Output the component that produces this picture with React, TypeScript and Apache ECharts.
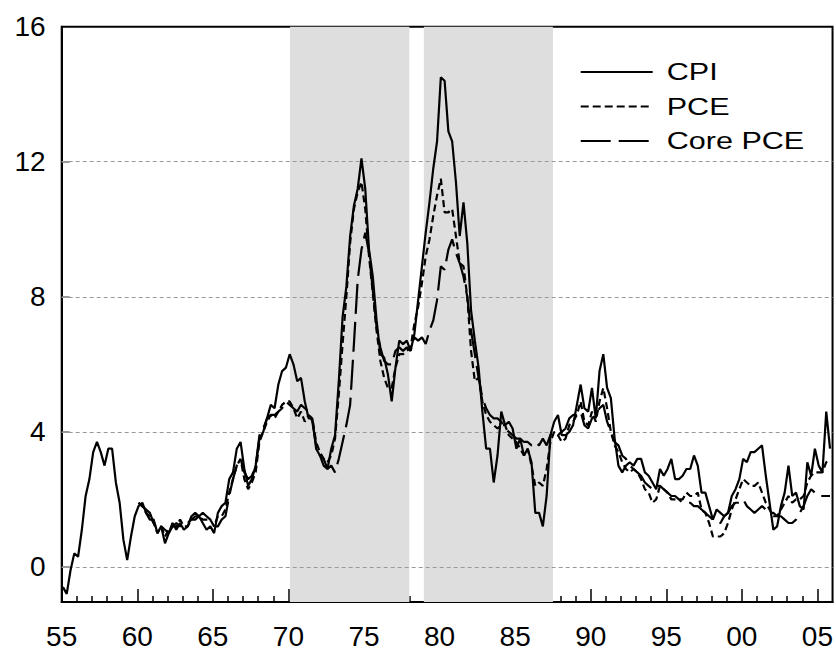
import React, { useEffect, useRef } from "react";
import * as echarts from "echarts";

// Quarterly readings (Feb, May, Aug, Nov) of 12-month inflation, percent
const cpiStart = 1955;
const cpi = [
  -0.6, -0.8, -0.1, 0.4, // 1955
  0.3, 1.1, 2.1, 2.6, // 1956
  3.4, 3.7, 3.4, 3.0, // 1957
  3.5, 3.5, 2.5, 1.9, // 1958
  0.8, 0.2, 0.9, 1.5, // 1959
  1.8, 1.9, 1.6, 1.4, // 1960
  1.4, 1.0, 1.2, 0.7, // 1961
  1.0, 1.3, 1.1, 1.3, // 1962
  1.1, 1.2, 1.5, 1.6, // 1963
  1.5, 1.3, 1.1, 1.2, // 1964
  1.0, 1.6, 1.8, 1.9, // 1965
  2.6, 2.8, 3.5, 3.7, // 1966
  2.9, 2.4, 2.6, 3.0, // 1967
  3.8, 4.0, 4.4, 4.8, // 1968
  4.7, 5.4, 5.8, 5.9, // 1969
  6.3, 6.0, 5.5, 5.6, // 1970
  4.9, 4.4, 4.4, 3.5, // 1971
  3.3, 3.2, 2.9, 3.5, // 1972
  3.9, 5.5, 7.4, 8.3, // 1973
  9.8, 10.7, 11.2, 12.1, // 1974
  11.2, 9.4, 8.6, 7.3, // 1975
  6.3, 6.2, 5.7, 4.9, // 1976
  5.9, 6.7, 6.6, 6.7, // 1977
  6.4, 6.9, 7.9, 8.9, // 1978
  9.9, 10.8, 11.8, 12.6, // 1979
  14.5, 14.4, 12.9, 12.6, // 1980
  11.4, 9.8, 10.8, 9.6, // 1981
  7.6, 6.7, 5.9, 4.6, // 1982
  3.5, 3.5, 2.5, 3.3, // 1983
  4.6, 4.2, 4.3, 4.1, // 1984
  3.5, 3.8, 3.3, 3.5, // 1985
  3.1, 1.6, 1.6, 1.2, // 1986
  2.1, 3.9, 4.3, 4.5, // 1987
  3.9, 3.9, 4.0, 4.2, // 1988
  4.8, 5.4, 4.7, 4.6, // 1989
  5.3, 4.4, 5.8, 6.3, // 1990
  5.3, 5.0, 3.8, 3.0, // 1991
  2.8, 3.0, 3.1, 3.0, // 1992
  3.2, 3.2, 2.8, 2.7, // 1993
  2.5, 2.3, 2.9, 2.7, // 1994
  2.9, 3.2, 2.6, 2.6, // 1995
  2.7, 2.9, 2.9, 3.3, // 1996
  3.0, 2.2, 2.2, 1.8, // 1997
  1.4, 1.7, 1.6, 1.5, // 1998
  1.6, 2.1, 2.3, 2.6, // 1999
  3.2, 3.1, 3.4, 3.4, // 2000
  3.5, 3.6, 2.7, 1.9, // 2001
  1.1, 1.2, 1.8, 2.2, // 2002
  3.0, 2.1, 2.2, 1.8, // 2003
  1.7, 3.1, 2.7, 3.5, // 2004
  3.0, 2.8, 4.6, 3.5, // 2005
];

const pceStart = 1960;
const pce = [
  1.9, 1.8, 1.6, 1.5, // 1960
  1.3, 1.0, 1.2, 0.9, // 1961
  1.1, 1.2, 1.2, 1.4, // 1962
  1.2, 1.2, 1.4, 1.5, // 1963
  1.5, 1.4, 1.4, 1.4, // 1964
  1.2, 1.5, 1.5, 1.7, // 1965
  2.2, 2.6, 3.0, 3.2, // 1966
  2.6, 2.3, 2.5, 2.8, // 1967
  3.7, 4.0, 4.3, 4.5, // 1968
  4.4, 4.6, 4.8, 4.9, // 1969
  4.9, 4.7, 4.4, 4.6, // 1970
  4.3, 4.5, 4.4, 3.7, // 1971
  3.4, 3.2, 3.1, 3.3, // 1972
  3.8, 5.1, 6.6, 8.0, // 1973
  9.6, 10.6, 11.1, 11.4, // 1974
  10.6, 9.2, 8.1, 7.0, // 1975
  6.1, 5.6, 5.3, 5.3, // 1976
  5.9, 6.3, 6.3, 6.4, // 1977
  6.5, 7.2, 7.7, 8.4, // 1978
  9.2, 9.7, 10.4, 11.0, // 1979
  11.5, 10.5, 10.5, 10.6, // 1980
  9.8, 9.0, 8.9, 8.0, // 1981
  6.4, 5.5, 5.6, 4.9, // 1982
  4.5, 4.3, 4.2, 4.1, // 1983
  4.2, 4.2, 3.9, 3.8, // 1984
  3.7, 3.5, 3.3, 3.5, // 1985
  3.0, 2.4, 2.5, 2.4, // 1986
  2.9, 3.7, 4.0, 3.9, // 1987
  3.7, 3.8, 4.2, 4.3, // 1988
  4.5, 4.9, 4.3, 4.2, // 1989
  4.6, 4.3, 4.9, 5.3, // 1990
  4.7, 4.0, 3.6, 3.4, // 1991
  3.1, 2.9, 2.8, 2.9, // 1992
  2.8, 2.6, 2.3, 2.2, // 1993
  1.9, 2.0, 2.4, 2.3, // 1994
  2.2, 2.0, 2.0, 2.0, // 1995
  2.0, 2.2, 2.1, 2.1, // 1996
  2.2, 1.7, 1.6, 1.3, // 1997
  0.9, 0.9, 0.9, 1.0, // 1998
  1.3, 1.7, 2.0, 2.3, // 1999
  2.6, 2.5, 2.4, 2.4, // 2000
  2.5, 2.2, 1.9, 1.7, // 2001
  1.5, 1.5, 1.7, 1.9, // 2002
  2.1, 1.9, 2.0, 2.0, // 2003
  2.1, 2.5, 2.7, 2.8, // 2004
  2.8, 2.8, 3.1, 3.2, // 2005
];

const corePce = [
  1.9, 1.8, 1.7, 1.6, // 1960
  1.3, 1.1, 1.2, 1.1, // 1961
  1.0, 1.2, 1.3, 1.2, // 1962
  1.3, 1.3, 1.4, 1.4, // 1963
  1.5, 1.6, 1.5, 1.4, // 1964
  1.2, 1.2, 1.4, 1.5, // 1965
  2.1, 2.6, 3.0, 3.2, // 1966
  2.8, 2.6, 2.7, 3.0, // 1967
  3.9, 4.1, 4.4, 4.5, // 1968
  4.5, 4.6, 4.7, 4.9, // 1969
  4.8, 4.7, 4.6, 4.8, // 1970
  4.7, 4.6, 4.3, 3.6, // 1971
  3.3, 3.0, 2.9, 3.0, // 1972
  2.8, 3.2, 3.7, 4.2, // 1973
  4.8, 6.6, 8.5, 9.4, // 1974
  9.9, 9.3, 8.2, 7.1, // 1975
  6.5, 6.1, 6.0, 6.0, // 1976
  6.4, 6.5, 6.4, 6.5, // 1977
  6.4, 6.8, 6.7, 6.8, // 1978
  6.6, 7.0, 7.3, 7.9, // 1979
  8.9, 8.8, 9.4, 9.7, // 1980
  9.3, 9.0, 8.6, 8.0, // 1981
  7.0, 6.3, 5.6, 5.0, // 1982
  4.7, 4.5, 4.4, 4.4, // 1983
  4.3, 4.1, 4.0, 3.9, // 1984
  3.8, 3.8, 3.7, 3.7, // 1985
  3.6, 3.7, 3.6, 3.8, // 1986
  3.6, 3.9, 4.0, 3.9, // 1987
  4.0, 4.1, 4.4, 4.5, // 1988
  4.5, 4.6, 4.2, 4.1, // 1989
  4.4, 4.5, 4.7, 4.8, // 1990
  4.3, 4.0, 3.7, 3.6, // 1991
  3.3, 3.2, 3.0, 2.9, // 1992
  2.8, 2.7, 2.5, 2.4, // 1993
  2.3, 2.4, 2.4, 2.3, // 1994
  2.2, 2.1, 2.1, 2.0, // 1995
  1.9, 1.9, 1.9, 1.8, // 1996
  1.8, 1.7, 1.6, 1.5, // 1997
  1.4, 1.3, 1.3, 1.5, // 1998
  1.6, 1.8, 1.9, 1.9, // 1999
  2.0, 1.8, 1.7, 1.6, // 2000
  1.7, 1.8, 1.7, 1.6, // 2001
  1.6, 1.5, 1.5, 1.4, // 2002
  1.3, 1.3, 1.4, 1.6, // 2003
  1.8, 2.1, 2.3, 2.2, // 2004
  2.1, 2.1, 2.1, 2.1, // 2005
];

// Shaded periods (start, end) in years
const bands = [
  [1970.1, 1978.0],
  [1978.96, 1987.5],
];

const yGridValues = [0, 4, 8, 12];
const yLabelValues = [0, 4, 8, 12, 16];
const xMajorYears = [1955, 1960, 1965, 1970, 1975, 1980, 1985, 1990, 1995, 2000, 2005];
const xMinorYears = [
  1956, 1957, 1958, 1959, 1961, 1962, 1963, 1964, 1966, 1967, 1968, 1969,
  1971, 1972, 1973, 1974, 1976, 1977, 1978, 1979, 1981, 1982, 1983, 1984,
  1986, 1987, 1988, 1989, 1991, 1992, 1993, 1994, 1996, 1997, 1998, 1999,
  2001, 2002, 2003, 2004,
];

const legendNames = ["CPI", "PCE", "Core PCE"];

const FONT = "Liberation Sans, Arial, Helvetica, sans-serif";

function toPoints(start: number, vals: number[]) {
  return vals.map((v, i) => [start + Math.floor(i / 4) + ((i % 4) * 3 + 1) / 12, v]);
}

export default function App() {
  const ref = useRef<HTMLDivElement | null>(null);

  useEffect(() => {
    if (!ref.current) return;
    const chart = echarts.init(ref.current, undefined, { renderer: "svg" });

    const dashes: any[] = ["solid", [7, 4], [30, 8]];
    const legendDashes: any[] = [null, [8, 4], [30, 8]];
    const rowsY = [72, 106.5, 141];

    const graphic: any[] = [];
    legendNames.forEach((name, i) => {
      graphic.push({
        type: "line",
        shape: { x1: 580.7, y1: rowsY[i], x2: 652.7, y2: rowsY[i] },
        style: { stroke: "#000", lineWidth: 2, lineDash: legendDashes[i] || undefined },
        silent: true,
        z: 10,
      });
      graphic.push({
        type: "text",
        x: 666.7,
        y: rowsY[i],
        scaleX: 1.3,
        style: {
          text: name,
          fill: "#000",
          fontSize: 23.5,
          fontFamily: FONT,
          align: "left",
          verticalAlign: "middle",
          textAlign: "left",
          textVerticalAlign: "middle",
        },
        silent: true,
        z: 10,
      });
    });

    const lineSeries = [
      { name: "CPI", data: toPoints(cpiStart, cpi) },
      { name: "PCE", data: toPoints(pceStart, pce) },
      { name: "Core PCE", data: toPoints(pceStart, corePce) },
    ].map((s, i) => ({
      type: "line",
      name: s.name,
      data: s.data,
      xAxisIndex: 0,
      yAxisIndex: 0,
      symbol: "none",
      showSymbol: false,
      smooth: false,
      z: 5,
      lineStyle: { color: "#000", width: 2.2, type: dashes[i] },
    }));

    const option: any = {
      animation: false,
      backgroundColor: "#fff",
      textStyle: { fontFamily: FONT },
      grid: {
        left: 61.7,
        right: 1.7,
        top: 26.7,
        bottom: 44,
        show: true,
        borderColor: "#000",
        borderWidth: 2,
        backgroundColor: "transparent",
        containLabel: false,
      },
      xAxis: [
        {
          type: "value",
          min: 1955,
          max: 2006,
          position: "bottom",
          axisLine: { show: true, onZero: false, lineStyle: { color: "#000", width: 2 } },
          axisTick: {
            show: true,
            inside: true,
            length: 13,
            customValues: xMajorYears,
            lineStyle: { color: "#000", width: 1.5 },
          },
          axisLabel: {
            show: true,
            customValues: xMajorYears,
            margin: 20,
            fontSize: 28,
            color: "#000",
            fontFamily: FONT,
            formatter: (v: number) => String(Math.round(v) % 100).padStart(2, "0"),
          },
          splitLine: { show: false },
        },
        {
          type: "value",
          min: 1955,
          max: 2006,
          position: "bottom",
          axisLine: { show: false, onZero: false },
          axisTick: {
            show: true,
            inside: true,
            length: 6,
            customValues: xMinorYears,
            lineStyle: { color: "#000", width: 1.5 },
          },
          axisLabel: { show: false },
          splitLine: { show: false },
        },
      ],
      yAxis: {
        type: "value",
        min: -1.04,
        max: 16,
        axisLine: { show: true, onZero: false, lineStyle: { color: "#000", width: 2 } },
        axisTick: {
          show: true,
          inside: true,
          length: 8,
          customValues: yGridValues,
          lineStyle: { color: "#777", width: 1.5 },
        },
        axisLabel: {
          show: true,
          customValues: yLabelValues,
          margin: 16,
          fontSize: 28,
          color: "#000",
          fontFamily: FONT,
        },
        splitLine: { show: false },
      },
      series: [
        {
          type: "line",
          name: "bands",
          data: [],
          z: 1,
          silent: true,
          markArea: {
            silent: true,
            itemStyle: { color: "#dedede", opacity: 1 },
            data: bands.map((b) => [{ xAxis: b[0] }, { xAxis: b[1] }]),
          },
          markLine: {
            silent: true,
            symbol: ["none", "none"],
            label: { show: false },
            lineStyle: { color: "#999", width: 1, type: [4, 3] },
            data: yGridValues.map((v) => ({ yAxis: v })),
          },
        },
        ...lineSeries,
      ],
      graphic,
    };

    chart.setOption(option);
    return () => {
      chart.dispose();
    };
  }, []);

  return (
    <div
      ref={ref}
      style={{ position: "absolute", left: 0, top: 0, width: 836, height: 650, background: "#fff" }}
    />
  );
}
